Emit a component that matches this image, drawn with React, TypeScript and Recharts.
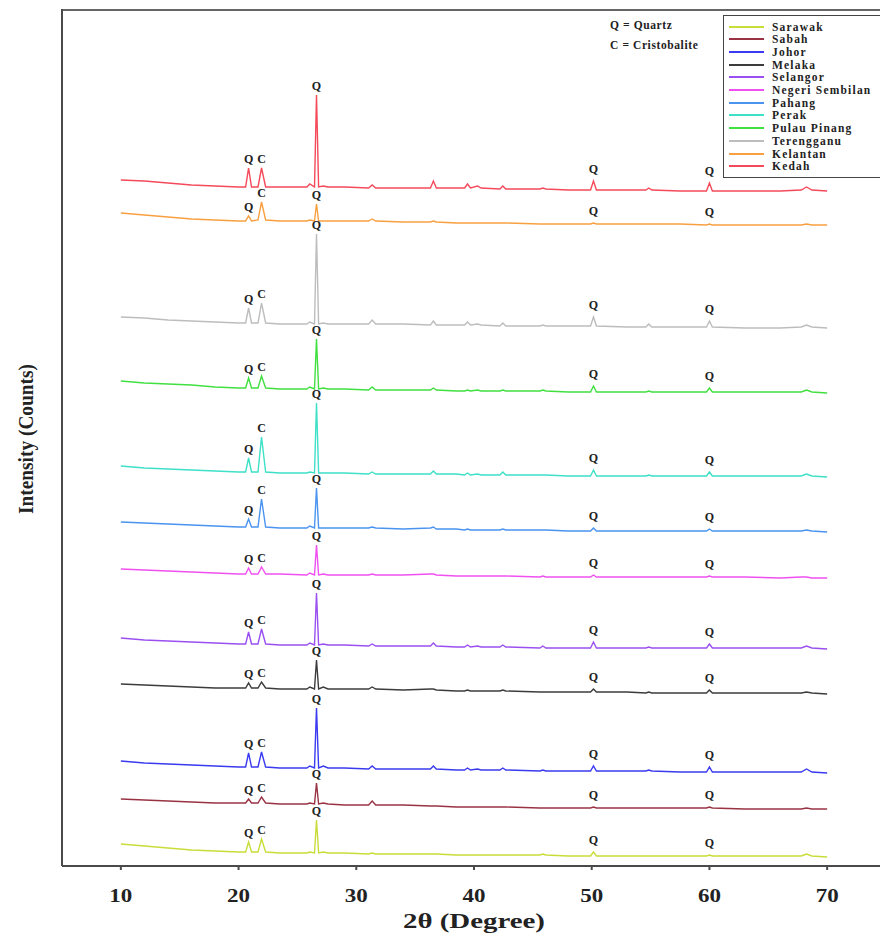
import { LineChart, Line, XAxis, YAxis, ReferenceDot, ReferenceLine } from "recharts";

// 2θ sampling positions (degrees), shared by every pattern
const twoTheta = [
  10, 12, 14, 16, 18, 20, 20.6, 20.85, 21.1, 21.65, 21.95, 22.3, 23.5, 25.8,
  26.05, 26.45, 26.62, 26.8, 27.2, 27.6, 29, 31.05, 31.35, 31.65, 34, 36.3,
  36.55, 36.8, 38.5, 39.2, 39.45, 39.7, 40.3, 40.6, 42.2, 42.45, 42.7, 45.6,
  45.85, 46.1, 48, 49.9, 50.15, 50.4, 53, 54.6, 54.85, 55.1, 57.5, 59.75, 60.0,
  60.25, 63, 66, 67.8, 68.25, 68.7, 70,
];

const regions = [
  "Sarawak",
  "Sabah",
  "Johor",
  "Melaka",
  "Selangor",
  "Negeri Sembilan",
  "Pahang",
  "Perak",
  "Pulau Pinang",
  "Terengganu",
  "Kelantan",
  "Kedah",
];

const colors = [
  "#c9dd3a",
  "#993344",
  "#3a3af0",
  "#3c3c3c",
  "#9a50f0",
  "#f050f0",
  "#4a94f0",
  "#3ee0c8",
  "#40e040",
  "#bdbdbd",
  "#f8a040",
  "#f44a5a",
];

// vertical stacking offset of each pattern
const offsets = [1, 49, 85, 164, 209, 280, 326, 381, 465, 530, 633, 667];

// intensity above each pattern's own baseline
const sarawak = [13, 11, 9, 7, 6, 5, 5, 15, 5, 5, 18, 5, 4, 4, 5, 4, 37, 4, 5, 4, 4, 3, 4, 3, 3, 3, 3, 3, 2, 2, 2, 2, 2, 2, 2, 2, 2, 2, 3, 2, 1, 1, 5, 1, 1, 1, 1, 1, 1, 1, 2, 1, 1, 1, 1, 3, 1, 0];
const sabah = [10, 9, 8, 7, 6, 6, 6, 10, 6, 6, 12, 6, 5, 5, 6, 5, 26, 5, 6, 5, 4, 4, 8, 4, 4, 3, 3, 3, 2, 2, 2, 2, 2, 2, 2, 2, 2, 1, 1, 1, 1, 1, 2, 1, 1, 1, 1, 1, 1, 1, 2, 1, 0, 0, 0, 1, 0, 0];
const johor = [12, 10, 9, 8, 7, 6, 6, 20, 6, 6, 21, 6, 5, 5, 7, 5, 65, 5, 7, 5, 5, 4, 7, 4, 4, 4, 7, 4, 3, 3, 5, 3, 4, 3, 3, 5, 3, 2, 3, 2, 2, 2, 7, 2, 2, 2, 3, 2, 1, 1, 6, 1, 1, 1, 1, 4, 1, 0];
const melaka = [10, 9, 8, 7, 6, 6, 6, 11, 6, 6, 12, 6, 5, 5, 7, 5, 34, 5, 7, 5, 5, 5, 7, 5, 4, 5, 5, 4, 3, 3, 4, 3, 3, 3, 3, 4, 3, 2, 2, 2, 2, 2, 5, 2, 2, 1, 2, 1, 1, 1, 4, 1, 1, 1, 1, 2, 1, 0];
const selangor = [11, 9, 8, 7, 6, 5, 5, 17, 5, 5, 20, 5, 4, 4, 6, 4, 56, 4, 5, 4, 4, 3, 5, 3, 3, 3, 6, 3, 2, 2, 4, 2, 3, 2, 2, 4, 2, 1, 3, 1, 1, 1, 7, 1, 1, 1, 2, 1, 1, 1, 5, 1, 1, 1, 1, 3, 1, 0];
const negeriSembilan = [9, 8, 7, 6, 5, 4, 4, 10, 4, 4, 11, 4, 4, 3, 5, 3, 33, 3, 4, 3, 3, 3, 4, 3, 3, 4, 4, 3, 2, 2, 2, 2, 2, 2, 2, 2, 2, 1, 2, 1, 1, 1, 3, 1, 1, 1, 1, 1, 1, 1, 2, 1, 1, 0, 1, 1, 0, 0];
const pahang = [10, 9, 8, 7, 6, 5, 5, 13, 5, 5, 33, 5, 4, 4, 6, 4, 44, 4, 4, 4, 4, 4, 5, 4, 3, 4, 5, 3, 3, 2, 3, 2, 2, 2, 2, 3, 2, 2, 2, 2, 1, 1, 4, 1, 1, 1, 1, 1, 1, 1, 3, 1, 1, 1, 1, 2, 1, 0];
const perak = [11, 9, 8, 7, 6, 5, 5, 19, 5, 5, 40, 5, 4, 4, 5, 4, 74, 4, 4, 4, 4, 3, 5, 3, 3, 3, 6, 3, 3, 2, 4, 2, 3, 2, 2, 5, 2, 2, 2, 2, 1, 1, 7, 1, 1, 1, 2, 1, 1, 1, 5, 1, 1, 1, 1, 3, 1, 0];
const pulauPinang = [12, 10, 9, 8, 6, 5, 5, 15, 5, 5, 17, 5, 4, 4, 6, 4, 54, 4, 5, 4, 4, 3, 6, 3, 3, 3, 5, 3, 2, 2, 3, 2, 3, 2, 2, 3, 2, 2, 3, 2, 1, 1, 7, 1, 1, 1, 2, 1, 1, 1, 5, 1, 1, 1, 1, 3, 1, 0];
const terengganu = [11, 10, 8, 7, 6, 5, 5, 20, 5, 5, 25, 5, 4, 4, 6, 4, 94, 4, 5, 4, 4, 4, 8, 4, 4, 3, 7, 3, 3, 3, 6, 3, 4, 3, 2, 5, 2, 2, 3, 2, 2, 2, 11, 2, 1, 1, 4, 1, 1, 1, 7, 1, 0, 0, 1, 3, 1, 0];
const kelantan = [12, 10, 8, 6, 5, 4, 4, 9, 4, 5, 23, 5, 4, 4, 5, 4, 21, 4, 4, 4, 4, 4, 6, 4, 3, 3, 4, 3, 2, 2, 2, 2, 2, 2, 2, 2, 2, 1, 1, 1, 1, 1, 2, 1, 1, 1, 1, 1, 1, 0, 1, 0, 0, 0, 0, 1, 0, 0];
const kedah = [11, 10, 8, 6, 5, 4, 4, 23, 4, 4, 23, 4, 4, 4, 7, 4, 96, 4, 5, 4, 4, 3, 6, 3, 3, 3, 10, 3, 3, 3, 7, 3, 5, 3, 2, 5, 2, 2, 3, 2, 1, 1, 10, 1, 1, 1, 3, 1, 0, 0, 8, 0, 0, 0, 1, 4, 1, 0];

const intensities = [
  sarawak,
  sabah,
  johor,
  melaka,
  selangor,
  negeriSembilan,
  pahang,
  perak,
  pulauPinang,
  terengganu,
  kelantan,
  kedah,
];

// labelled reflections: sample index and phase (Q = quartz, C = cristobalite)
const peakIndex = [7, 10, 16, 42, 50];
const peakPhase = ["Q", "C", "Q", "Q", "Q"];

const xTicks = [10, 20, 30, 40, 50, 60, 70];
const yTicks = [0, 152, 303, 455, 606, 758];

const rows = twoTheta.map((t, i) => {
  const row: Record<string, number> = { twoTheta: t };
  regions.forEach((name, s) => {
    row[name] = offsets[s] + intensities[s][i];
  });
  return row;
});

const serif = '"Liberation Serif", "Times New Roman", serif';

function XTick({ x, y, payload }: any) {
  return (
    <text
      x={x}
      y={y + 30}
      textAnchor="middle"
      fontFamily={serif}
      fontWeight={700}
      fontSize={18}
      fill="#222"
      textLength={23}
      lengthAdjust="spacingAndGlyphs"
    >
      {payload.value}
    </text>
  );
}

export default function App() {
  return (
    <div
      style={{
        position: "fixed",
        left: 0,
        top: 0,
        width: 880,
        height: 935,
        overflow: "hidden",
        background: "#fff",
      }}
    >
      <LineChart
        width={886}
        height={935}
        data={rows}
        margin={{ top: 9, right: 0, bottom: 0, left: 0 }}
      >
        <XAxis
          dataKey="twoTheta"
          type="number"
          domain={[5, 75]}
          ticks={xTicks}
          height={69}
          tickSize={4}
          tickMargin={2}
          tick={<XTick />}
          stroke="#4a4a4a"
          strokeWidth={2}
          allowDataOverflow
          label={{
            content: () => (
              <text
                x={474}
                y={928}
                textAnchor="middle"
                fontFamily={serif}
                fontWeight={700}
                fontSize={21}
                fill="#222"
                textLength={142}
                lengthAdjust="spacingAndGlyphs"
              >
                2θ (Degree)
              </text>
            ),
          }}
        />
        <YAxis
          type="number"
          domain={[-8, 849]}
          ticks={yTicks}
          width={62}
          tick={false}
          tickSize={6}
          stroke="#4a4a4a"
          strokeWidth={2}
          allowDataOverflow
          label={{
            content: () => (
              <text
                transform="translate(33,439) rotate(-90)"
                textAnchor="middle"
                fontFamily={serif}
                fontWeight={700}
                fontSize={21}
                fill="#222"
                textLength={150}
                lengthAdjust="spacingAndGlyphs"
              >
                Intensity (Counts)
              </text>
            ),
          }}
        />
        {/* top edge of the plot frame */}
        <ReferenceLine
          y={848}
          stroke="#666"
          strokeWidth={2}
          ifOverflow="visible"
        />
        {regions.map((name, s) => (
          <Line
            key={name}
            type="linear"
            dataKey={name}
            stroke={colors[s]}
            strokeWidth={1.4}
            dot={false}
            isAnimationActive={false}
          />
        ))}
        {regions.map((name, s) =>
          peakIndex.map((idx, k) => (
            <ReferenceDot
              key={`${name}-${idx}`}
              x={twoTheta[idx]}
              y={rows[idx][name]}
              r={0}
              fill="none"
              stroke="none"
              label={{
                value: peakPhase[k],
                position: "top",
                offset: idx > 20 ? 8 : 5,
                fill: "#222",
                fontSize: 12,
                fontWeight: 700,
                fontFamily: serif,
              }}
            />
          ))
        )}
      </LineChart>

      <div
        style={{
          position: "absolute",
          left: 610,
          top: 15,
          fontFamily: serif,
          fontWeight: 700,
          fontSize: 11.5,
          letterSpacing: 0.6,
          color: "#222",
          lineHeight: "20px",
        }}
      >
        <div>Q = Quartz</div>
        <div>C = Cristobalite</div>
      </div>

      <div
        style={{
          position: "absolute",
          left: 723,
          top: 15,
          width: 200,
          height: 163,
          boxSizing: "border-box",
          border: "1.5px solid #444",
          background: "#fff",
        }}
      >
        {regions.map((name, i) => (
          <div
            key={name}
            style={{
              position: "absolute",
              left: 5,
              top: 4 + i * 12.7,
              height: 13,
              display: "flex",
              alignItems: "center",
              whiteSpace: "nowrap",
            }}
          >
            <div
              style={{
                width: 35,
                height: 2,
                background: colors[i],
              }}
            />
            <span
              style={{
                marginLeft: 8,
                fontFamily: serif,
                fontWeight: 700,
                fontSize: 11.5,
                letterSpacing: 1.2,
                color: "#222",
              }}
            >
              {name}
            </span>
          </div>
        ))}
      </div>
    </div>
  );
}
